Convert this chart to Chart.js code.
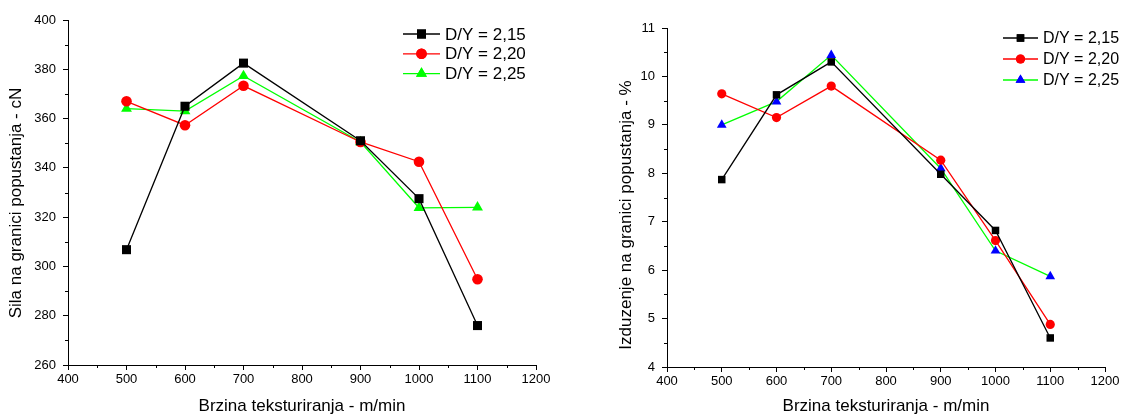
<!DOCTYPE html>
<html>
<head>
<meta charset="utf-8">
<script src="https://cdn.jsdelivr.net/npm/chart.js@4.4.1/dist/chart.umd.min.js"></script>
<style>
  body { margin: 0; background: #fff; }
  .wrap { position: absolute; top: 0; width: 560px; height: 419px; }
  #w1 { left: 0; }
  #w2 { left: 572px; }
</style>
</head>
<body>
<div class="wrap" id="w1"><canvas id="c1"></canvas></div>
<div class="wrap" id="w2"><canvas id="c2"></canvas></div>
<script>
const speeds = [500, 600, 700, 900, 1000, 1100];
const seriesNames = ["D/Y = 2,15", "D/Y = 2,20", "D/Y = 2,25"];

// sila na granici popustanja - cN
const force215 = [306.8, 365.0, 382.5, 351.0, 327.5, 276.0];
const force220 = [367.0, 357.3, 373.3, 350.5, 342.5, 294.8];
const force225 = [364.0, 363.0, 377.3, 350.5, 323.8, 324.0];

// izduzenje na granici popustanja - %
const elong215 = [7.87, 9.62, 10.30, 7.98, 6.82, 4.60];
const elong220 = [9.64, 9.15, 9.80, 8.27, 6.61, 4.88];
const elong225 = [9.00, 9.48, 10.44, 8.10, 6.40, 5.87];

const FONT = "'Liberation Sans', Arial, sans-serif";

function pts(vals) {
  return speeds.map((s, i) => ({ x: s, y: vals[i] }));
}

function mkSet(label, vals, lineCol, markCol, style, r) {
  return {
    label: label,
    data: pts(vals),
    borderColor: lineCol,
    borderWidth: 1.3,
    backgroundColor: markCol,
    pointBackgroundColor: markCol,
    pointBorderColor: markCol,
    pointBorderWidth: 0,
    pointStyle: style,
    pointRadius: r,
    tension: 0
  };
}

// legend inside the plot (line - marker - line  text) and the rotated y title
function extrasPlugin(cfg) {
  return {
    id: 'extras',
    afterDraw(chart) {
      const ctx = chart.ctx;
      ctx.save();
      chart.data.datasets.forEach((ds, i) => {
        const y = cfg.ly + i * cfg.gap;
        ctx.strokeStyle = ds.borderColor;
        ctx.lineWidth = 1.3;
        ctx.beginPath();
        ctx.moveTo(cfg.lx, y);
        ctx.lineTo(cfg.lx + cfg.len, y);
        ctx.stroke();
        ctx.fillStyle = ds.pointBackgroundColor;
        Chart.helpers.drawPoint(ctx, {
          pointStyle: ds.pointStyle,
          radius: ds.pointRadius,
          rotation: 0,
          borderWidth: 0
        }, cfg.lx + cfg.len / 2, y);
        ctx.fill();
        ctx.fillStyle = '#000';
        ctx.font = cfg.legendFont + 'px ' + FONT;
        ctx.textBaseline = 'middle';
        ctx.textAlign = 'left';
        ctx.fillText(ds.label, cfg.lx + cfg.len + 5, y + 1);
      });
      // y axis title
      ctx.translate(cfg.tx, cfg.ty);
      ctx.rotate(-Math.PI / 2);
      ctx.fillStyle = '#000';
      ctx.font = '17px ' + FONT;
      ctx.textAlign = 'center';
      ctx.textBaseline = 'middle';
      ctx.fillText(cfg.yTitle, 0, 0);
      ctx.restore();
    }
  };
}

// short minor ticks between the labelled ones
const minorTicks = {
  id: 'minorTicks',
  afterDraw(chart) {
    const ctx = chart.ctx;
    const xs = chart.scales.x, ys = chart.scales.y;
    const mo = chart.options.minorTicks;
    ctx.save();
    ctx.strokeStyle = '#000';
    ctx.lineWidth = 1;
    ctx.beginPath();
    for (let v = mo.xMin + mo.xStep / 2; v < mo.xMax; v += mo.xStep) {
      const px = Math.round(xs.getPixelForValue(v)) + 0.5;
      ctx.moveTo(px, xs.top);
      ctx.lineTo(px, xs.top + 3);
    }
    for (let v = mo.yMin + mo.yStep / 2; v < mo.yMax; v += mo.yStep) {
      const py = Math.round(ys.getPixelForValue(v)) + 0.5;
      ctx.moveTo(ys.right, py);
      ctx.lineTo(ys.right - 3, py);
    }
    ctx.stroke();
    ctx.restore();
  }
};

function makeChart(id, datasets, yMin, yMax, yStep, yWidth, xHeight, pad, extras) {
  return new Chart(document.getElementById(id), {
    type: 'line',
    data: { datasets: datasets },
    options: {
      responsive: true,
      maintainAspectRatio: false,
      animation: false,
      minorTicks: { xMin: 400, xMax: 1200, xStep: 100, yMin: yMin, yMax: yMax, yStep: yStep },
      layout: { padding: pad },
      plugins: { legend: { display: false }, tooltip: { enabled: false } },
      scales: {
        x: {
          type: 'linear',
          min: 400, max: 1200,
          afterFit(s) { s.height = xHeight; },
          ticks: { stepSize: 100, color: '#000', font: { family: FONT, size: 13 }, padding: 2, maxRotation: 0,
                   callback: v => String(v) },
          grid: { drawOnChartArea: false, tickLength: 5, tickColor: '#000' },
          border: { color: '#000', width: 1 },
          title: { display: true, text: 'Brzina teksturiranja - m/min', color: '#000', font: { family: FONT, size: 17 }, padding: { top: 0, bottom: 2 } }
        },
        y: {
          min: yMin, max: yMax,
          afterFit(s) { s.width = yWidth; },
          ticks: { stepSize: yStep, color: '#000', font: { family: FONT, size: 13 }, padding: 7,
                   callback: v => String(v) },
          grid: { drawOnChartArea: false, tickLength: 5, tickColor: '#000' },
          border: { color: '#000', width: 1 }
        }
      }
    },
    plugins: [minorTicks, extras]
  });
}

makeChart('c1', [
  mkSet(seriesNames[0], force215, '#000000', '#000000', 'rect', 6.4),
  mkSet(seriesNames[1], force220, '#ff0000', '#ff0000', 'circle', 5.3),
  mkSet(seriesNames[2], force225, '#00ff00', '#00ff00', 'triangle', 6.3)
], 260, 400, 20, 68, 54,
  { left: 0, top: 20, right: 24, bottom: 0 },
  extrasPlugin({ lx: 403, ly: 34, gap: 19.8, len: 37, legendFont: 17,
                 tx: 16, ty: 203, yTitle: 'Sila na granici popustanja - cN' }));

makeChart('c2', [
  mkSet(seriesNames[0], elong215, '#000000', '#000000', 'rect', 5.3),
  mkSet(seriesNames[1], elong220, '#ff0000', '#ff0000', 'circle', 4.6),
  mkSet(seriesNames[2], elong225, '#00ff00', '#0000ff', 'triangle', 5.6)
], 4, 11, 1, 95, 52,
  { left: 0, top: 28, right: 27, bottom: 0 },
  extrasPlugin({ lx: 431, ly: 38, gap: 21, len: 35, legendFont: 16,
                 tx: 54, ty: 215, yTitle: 'Izduzenje na granici popustanja - %' }));
</script>
</body>
</html>
